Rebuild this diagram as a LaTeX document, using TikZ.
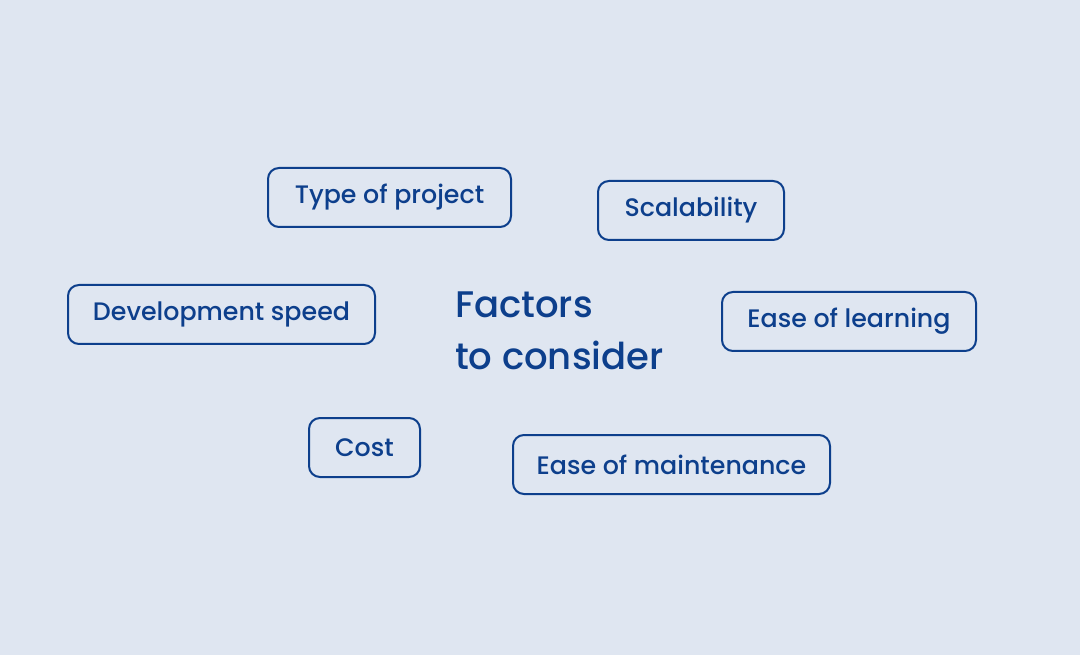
\documentclass[tikz,border=0pt]{standalone}
\usepackage{fontspec}
\setmainfont{Poppins}[UprightFont={Poppins Medium}, BoldFont={Poppins SemiBold}]
\definecolor{bgc}{HTML}{DFE6F1}
\definecolor{ink}{HTML}{0D3F8C}
\begin{document}
\begin{tikzpicture}[x=1pt,y=-1pt,
  factor/.style={draw=ink, line width=2pt, rounded corners=11pt, text=ink,
    inner sep=0pt, font=\fontsize{25.3}{27}\selectfont, anchor=center},
  titletext/.style={text=ink, anchor=north west, inner sep=0pt, align=left,
    font=\fontsize{37}{52}\selectfont}]
\fill[bgc] (0,0) rectangle (1080,655);
\useasboundingbox (0,0) rectangle (1080,655);
\node[factor, minimum width=243pt, minimum height=59pt] (type) at (389.5,197.5) {Type of project};
\node[factor, minimum width=186pt, minimum height=59pt] (scal) at (691,210.5) {Scalability};
\node[factor, minimum width=307pt, minimum height=59pt] (dev) at (221.5,314.5) {Development speed};
\node[factor, minimum width=254pt, minimum height=59pt] (learn) at (849,321.5) {Ease of learning};
\node[factor, minimum width=111pt, minimum height=59pt] (cost) at (364.5,447.5) {Cost};
\node[factor, minimum width=317pt, minimum height=59pt] (maint) at (671.5,464.5) {Ease of maintenance};
\node[titletext] (title) at (455,292) {Factors\\to consider};
\end{tikzpicture}
\end{document}
